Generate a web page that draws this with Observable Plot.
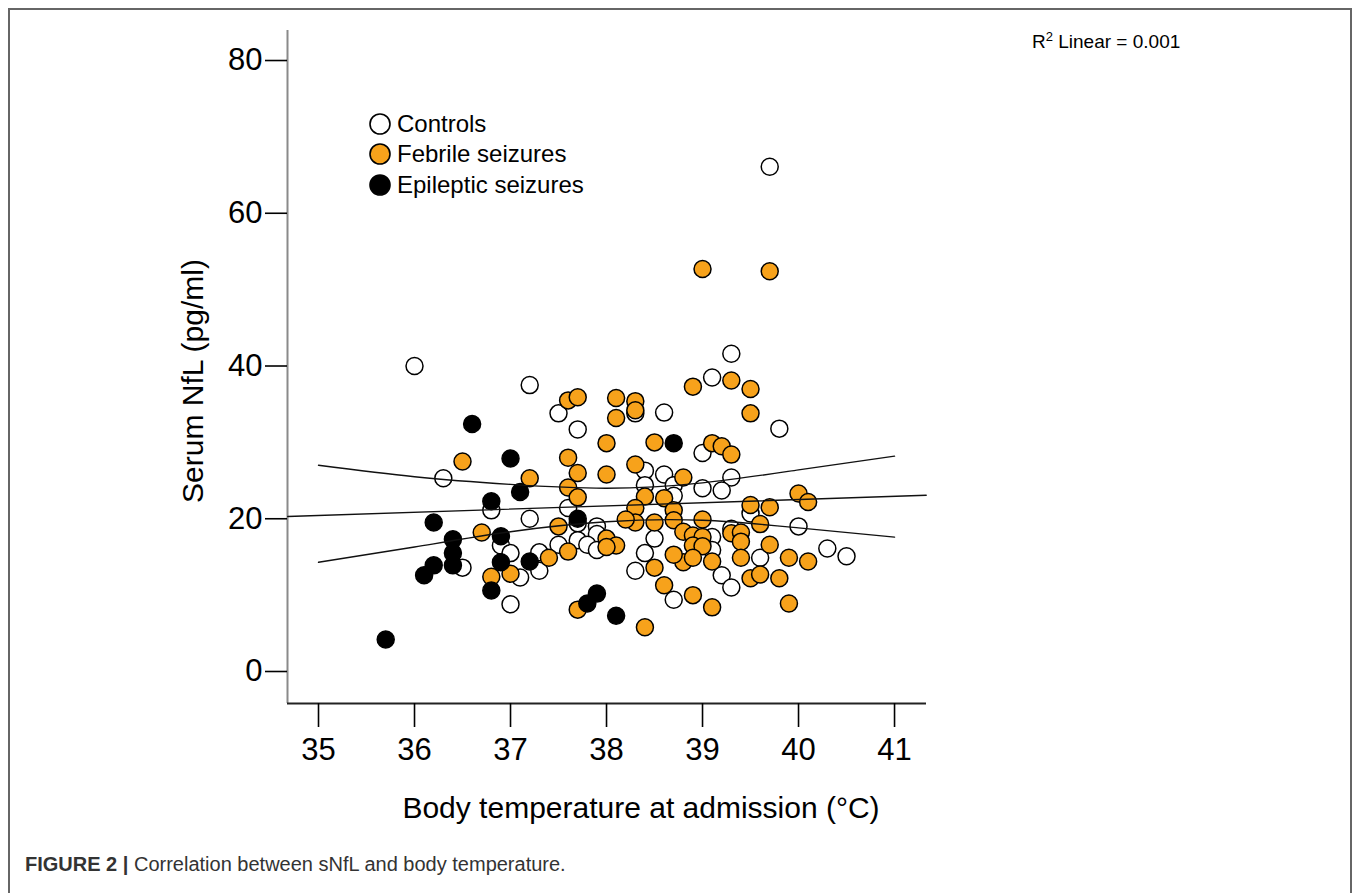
<!DOCTYPE html>
<html>
<head>
<meta charset="utf-8">
<script src="https://cdn.jsdelivr.net/npm/d3@7"></script>
<script src="https://cdn.jsdelivr.net/npm/@observablehq/plot@0.6"></script>
<style>
  html, body { margin: 0; padding: 0; background: #fff; }
  #page { position: relative; width: 1357px; height: 893px; overflow: hidden; font-family: "Liberation Sans", Arial, sans-serif; }
  #frame { position: absolute; left: 8px; top: 8px; width: 1344px; height: 920px; border: 2px solid #666; border-bottom: none; box-sizing: border-box; }
  #chart { position: absolute; left: 0; top: 0; }
  .abs { position: absolute; white-space: nowrap; color: #000; }
  .leg { position: absolute; left: 368px; height: 30px; display: flex; align-items: center; font-size: 24px; }
  .leg svg { margin-right: 5px; }
</style>
</head>
<body>
<div id="page">
  <div id="frame"></div>
  <div id="chart"></div>
</div>
<script>
// ---- data ----
const controls = [[36.0,40.0],[37.2,37.5],[36.3,25.3],[36.8,21.1],[37.2,20.0],[36.9,16.5],[37.0,15.5],[36.5,13.6],[37.3,15.6],[37.1,12.3],[37.0,8.8],[39.3,41.6],[39.1,38.5],[37.5,33.8],[38.3,33.8],[38.6,33.9],[37.7,31.7],[39.0,28.6],[38.4,26.3],[38.6,25.8],[39.3,25.4],[38.4,24.4],[38.7,24.4],[39.0,24.0],[39.2,23.7],[38.7,23.0],[37.6,21.4],[37.7,19.4],[37.9,19.0],[37.9,18.0],[37.5,16.6],[37.7,17.2],[37.8,16.6],[37.9,15.9],[37.3,13.2],[39.1,17.6],[38.4,15.5],[38.5,17.4],[38.3,13.2],[38.7,9.4],[39.2,12.6],[39.3,11.0],[39.8,31.8],[39.5,20.7],[40.0,19.0],[39.3,18.7],[39.1,15.9],[39.6,14.9],[40.3,16.1],[40.5,15.1],[39.7,66.1]];
const febrile = [[36.5,27.5],[37.2,25.3],[36.7,18.2],[36.8,12.4],[37.0,12.8],[39.0,52.7],[39.7,52.4],[38.9,37.3],[39.3,38.1],[37.6,35.5],[37.7,35.9],[38.1,35.8],[38.3,35.4],[38.3,34.2],[38.1,33.2],[38.0,29.9],[38.5,30.0],[39.1,29.9],[39.2,29.5],[39.3,28.4],[37.6,28.0],[37.7,26.0],[38.0,25.8],[38.3,27.1],[38.8,25.4],[37.6,24.1],[37.7,22.8],[38.4,22.9],[38.6,22.7],[38.3,21.4],[38.7,21.1],[38.3,19.5],[38.2,19.9],[38.5,19.5],[38.7,19.8],[39.0,19.9],[37.5,19.0],[38.0,17.4],[38.1,16.5],[38.0,16.3],[37.6,15.7],[37.4,14.9],[38.8,18.3],[38.9,17.8],[39.0,17.6],[38.9,16.5],[39.0,16.4],[38.8,14.3],[38.9,14.9],[38.7,15.3],[39.1,14.4],[38.5,13.6],[38.6,11.3],[38.9,10.0],[39.1,8.4],[39.3,18.1],[37.7,8.1],[38.4,5.8],[39.5,37.0],[39.5,33.8],[40.0,23.3],[40.1,22.2],[39.5,21.8],[39.7,21.5],[39.6,19.3],[39.4,18.2],[39.4,17.0],[39.7,16.6],[39.4,14.9],[39.9,14.9],[40.1,14.4],[39.5,12.2],[39.6,12.7],[39.8,12.2],[39.9,8.9]];
const epileptic = [[35.7,4.2],[36.6,32.4],[37.0,27.9],[37.1,23.5],[36.8,22.3],[36.2,19.5],[36.4,17.3],[36.9,17.7],[36.4,15.5],[36.4,13.9],[36.2,13.9],[36.1,12.6],[36.9,14.3],[37.2,14.4],[36.8,10.6],[38.7,29.9],[37.7,20.0],[37.9,10.2],[37.8,8.9],[38.1,7.3]];

// fit line and its confidence band
const fitX = [34.68, 41.33];
const fitY = [20.3, 23.07];
const bandX = [35, 36, 37, 38, 39, 40, 41];
const bandUpper = [27.0, 25.5, 24.5, 24.0, 24.7, 26.4, 28.2];
const bandLower = [14.3, 16.3, 18.3, 19.6, 19.8, 18.8, 17.6];

const xTicks = [35, 36, 37, 38, 39, 40, 41];
const yTicks = [0, 20, 40, 60, 80];
const xDomain = [34.677, 41.333];
const yDomain = [-4.19, 83.93];

const groups = ["Controls", "Febrile seizures", "Epileptic seizures"];
const fills = ["#ffffff", "#f7a21b", "#000000"];

const pts = (arr) => arr.map(([t, v]) => ({t, v}));
const fitRows = fitX.map((t, i) => ({t, v: fitY[i]}));
const upperRows = bandX.map((t, i) => ({t, v: bandUpper[i]}));
const lowerRows = bandX.map((t, i) => ({t, v: bandLower[i]}));

const font = '"Liberation Sans", Arial, sans-serif';

const chart = Plot.plot({
  width: 1357,
  height: 840,
  marginLeft: 287,
  marginRight: 431,
  marginTop: 30,
  marginBottom: 137,
  style: {fontFamily: font, background: "transparent", overflow: "visible"},
  x: {domain: xDomain},
  y: {domain: yDomain},
  marks: [
    Plot.ruleX([xDomain[0]], {stroke: "#8a8a8a", strokeWidth: 2}),
    Plot.ruleY([yDomain[0]], {stroke: "#222", strokeWidth: 2}),
    Plot.axisY({ticks: yTicks, tickSize: 22, tickPadding: 3, fontSize: 31, label: null, strokeWidth: 1.6, tickFormat: d => String(d), fill: "#000"}),
    Plot.axisX({ticks: xTicks, tickSize: 24, tickPadding: 10, fontSize: 31, label: null, strokeWidth: 1.6, tickFormat: d => String(d), fill: "#000"}),
    Plot.dot(pts(controls), {x: "t", y: "v", r: 8.5, fill: fills[0], stroke: "#000", strokeWidth: 1.5}),
    Plot.dot(pts(febrile), {x: "t", y: "v", r: 8.5, fill: fills[1], stroke: "#000", strokeWidth: 1.5}),
    Plot.dot(pts(epileptic), {x: "t", y: "v", r: 8.5, fill: fills[2], stroke: "#000", strokeWidth: 1.5}),
    Plot.line(fitRows, {x: "t", y: "v", stroke: "#111", strokeWidth: 1.4}),
    Plot.line(upperRows, {x: "t", y: "v", stroke: "#111", strokeWidth: 1.4, curve: "natural"}),
    Plot.line(lowerRows, {x: "t", y: "v", stroke: "#111", strokeWidth: 1.4, curve: "natural"})
  ]
});
document.getElementById("chart").appendChild(chart);

const page = document.getElementById("page");
function addText(html, css) {
  const d = document.createElement("div");
  d.className = "abs";
  d.innerHTML = html;
  Object.assign(d.style, css);
  page.appendChild(d);
  return d;
}
// axis titles
addText("Body temperature at admission (°C)", {left: "641px", top: "808px", fontSize: "30px", transform: "translate(-50%, -50%)"});
addText("Serum NfL (pg/ml)", {left: "193px", top: "381px", fontSize: "30px", transform: "translate(-50%, -50%) rotate(-90deg)"});
// R² annotation
addText('R<sup style="font-size:13px;vertical-align:7px;line-height:0">2</sup> Linear = 0.001', {left: "1032px", top: "31px", fontSize: "19px", lineHeight: "22px"});
// caption
addText('<b>FIGURE 2 |</b> Correlation between sNfL and body temperature.', {left: "25px", top: "853px", fontSize: "20px", color: "#333"});
// legend
const legTops = [109, 139, 170];
groups.forEach((g, i) => {
  const row = document.createElement("div");
  row.className = "leg";
  row.style.top = legTops[i] + "px";
  row.innerHTML = `<svg width="24" height="24"><circle cx="12" cy="12" r="10" fill="${fills[i]}" stroke="#000" stroke-width="1.6"/></svg><span>${g}</span>`;
  page.appendChild(row);
});
</script>
</body>
</html>
